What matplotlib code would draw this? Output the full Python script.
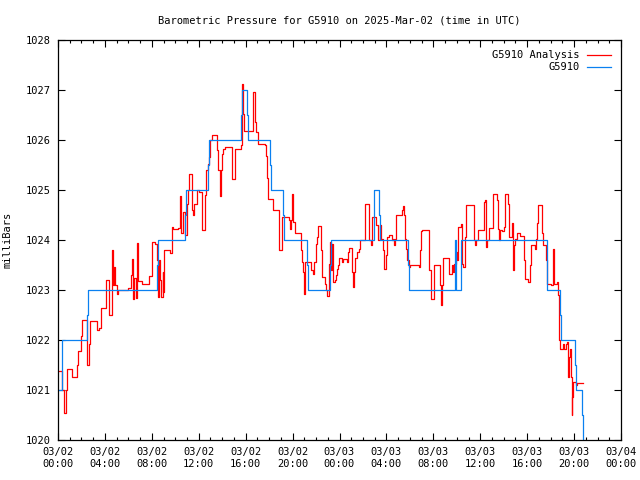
import matplotlib
matplotlib.use("Agg")
from matplotlib import pyplot as plt

# station obs (hours since 03/02 00:00 UTC, mb)
blue_hours = [0.0, 0.37, 2.44, 2.6, 8.47, 8.55, 10.85, 10.94, 12.82, 12.9, 15.6, 15.71,
              16.14, 16.22, 18.1, 18.18, 19.2, 19.29, 21.25, 21.33, 23.19, 23.27, 26.94,
              27.37, 27.48, 29.86, 29.95, 33.84, 33.9, 33.97, 34.36, 41.65, 41.7, 42.82,
              42.9, 44.1, 44.16, 44.67, 44.76, 44.9]
blue_mb = [1021.0, 1022.0, 1022.5, 1023.0, 1023.5, 1024.0, 1024.5, 1025.0, 1025.5, 1026.0,
           1026.5, 1027.0, 1026.5, 1026.0, 1025.5, 1025.0, 1024.5, 1024.0, 1023.5, 1023.0,
           1023.5, 1024.0, 1025.0, 1024.5, 1024.0, 1023.5, 1023.0, 1024.0, 1023.5, 1023.0,
           1024.0, 1023.5, 1023.0, 1022.5, 1022.0, 1021.5, 1021.0, 1020.5, 1019.5, 1019.5]

# analysis
red_hours = [0.0, 0.37, 0.54, 0.65, 0.74, 1.22, 1.59, 1.68, 1.73, 1.96, 2.07, 2.44, 2.67,
             2.76, 3.35, 3.52, 3.64, 4.06, 4.35, 4.57, 4.66, 4.74, 4.86, 5.06, 5.14,
             5.99, 6.22, 6.31, 6.37, 6.48, 6.62, 6.71, 6.79, 6.85, 7.13, 7.78, 7.98,
             8.27, 8.47, 8.5, 8.61, 8.7, 8.78, 8.92, 8.98, 9.06, 9.55, 9.69, 9.83, 10.26,
             10.4, 10.49, 10.68, 10.83, 10.97, 11.06, 11.17, 11.45, 11.53, 11.62, 11.82,
             12.02, 12.25, 12.53, 12.62, 12.82, 12.9, 12.96, 13.1, 13.53, 13.61, 13.84,
             13.9, 13.95, 14.1, 14.24, 14.86, 15.09, 15.57, 15.71, 15.8, 15.88, 16.65,
             16.79, 16.85, 17.08, 17.65, 17.73, 17.84, 17.93, 18.3, 18.84, 18.87, 19.12,
             19.69, 19.78, 19.84, 19.92, 20.06, 20.2, 20.72, 20.77, 20.83, 20.91, 20.97,
             21.06, 21.57, 21.77, 21.82, 21.97, 22.05, 22.19, 22.42, 22.53, 22.76, 22.82,
             22.9, 23.1, 23.19, 23.27, 23.33, 23.47, 23.61, 23.7, 23.81, 23.9, 23.98,
             24.18, 24.32, 24.61, 24.75, 24.83, 25.09, 25.12, 25.23, 25.32, 25.46, 25.66,
             25.75, 26.17, 26.51, 26.68, 26.74, 27.11, 27.31, 27.45, 27.54, 27.73, 27.79,
             27.96, 28.02, 28.25, 28.45, 28.53, 28.67, 28.73, 28.82, 29.3, 29.38, 29.5,
             29.58, 29.67, 29.72, 29.92, 30.0, 30.8, 30.86, 30.92, 31.0, 31.66, 31.77,
             32.05, 32.57, 32.63, 32.76, 32.85, 33.36, 33.56, 33.62, 33.7, 33.79, 33.9,
             34.04, 34.13, 34.36, 34.41, 34.5, 34.7, 34.78, 35.49, 35.55, 35.6, 35.78,
             36.32, 36.4, 36.49, 36.55, 36.74, 37.11, 37.45, 37.48, 37.54, 37.62, 37.68,
             37.82, 38.02, 38.11, 38.39, 38.45, 38.48, 38.68, 38.73, 38.76, 38.82, 38.87,
             38.96, 39.16, 39.39, 39.76, 39.81, 40.1, 40.24, 40.3, 40.67, 40.75, 40.81,
             40.95, 41.24, 41.3, 41.38, 41.6, 41.66, 41.72, 42.0, 42.17, 42.23, 42.28,
             42.31, 42.51, 42.65, 42.71, 42.74, 42.8, 43.08, 43.14, 43.28, 43.37, 43.45,
             43.51, 43.56, 43.65, 43.73, 43.79, 43.85, 43.93, 44.13, 44.22, 44.72]
red_mb = [1021.38, 1021.0, 1020.55, 1021.0, 1021.43, 1021.27, 1021.5, 1021.67, 1021.79,
          1022.08, 1022.4, 1021.5, 1021.93, 1022.38, 1022.2, 1022.25, 1022.65, 1023.2,
          1022.5, 1023.8, 1023.1, 1023.47, 1023.1, 1022.93, 1023.0,
          1023.05, 1023.31, 1023.63, 1022.82, 1023.25, 1022.85, 1023.95, 1023.57, 1023.18,
          1023.13, 1023.28, 1023.97, 1023.92, 1023.6, 1022.87, 1023.6, 1023.2, 1022.87,
          1023.37, 1022.97, 1023.8, 1023.75, 1024.27, 1024.22, 1024.25, 1024.88, 1024.13,
          1024.57, 1024.1, 1024.73, 1025.0, 1025.33, 1024.6, 1024.5, 1024.72, 1025.0,
          1024.97, 1024.2, 1024.9, 1025.4, 1025.53, 1025.65, 1026.0, 1026.1, 1025.8,
          1025.4, 1024.88, 1025.4, 1025.73, 1025.83, 1025.87, 1025.23, 1025.83, 1025.9,
          1027.12, 1026.53, 1026.18, 1026.97, 1026.37, 1026.15, 1025.93, 1025.9, 1025.67,
          1025.25, 1024.82, 1024.6, 1024.17, 1023.8, 1024.47, 1024.4, 1024.23, 1024.4,
          1024.93, 1024.37, 1024.13, 1023.8, 1023.67, 1023.57, 1023.37, 1022.93, 1023.57,
          1023.4, 1023.33, 1023.57, 1023.93, 1024.07, 1024.28, 1023.8, 1023.27, 1023.13,
          1023.0, 1022.88, 1023.53, 1023.97, 1023.4, 1023.93, 1023.17, 1023.2, 1023.3,
          1023.43, 1023.5, 1023.65, 1023.57, 1023.63, 1023.57, 1023.77, 1023.85, 1023.37,
          1023.07, 1023.37, 1023.65, 1023.77, 1023.83, 1024.0, 1024.73, 1024.0, 1023.9,
          1024.47, 1024.3, 1024.0, 1024.3, 1024.03, 1023.8, 1023.43, 1023.7, 1024.07,
          1024.1, 1024.0, 1024.03, 1023.9, 1024.03, 1024.5, 1024.6, 1024.67, 1024.5,
          1024.03, 1023.83, 1023.61, 1023.47, 1023.5, 1023.47, 1023.8, 1024.17, 1024.2,
          1023.4, 1022.83, 1023.5, 1023.1, 1022.7, 1023.1, 1023.65, 1023.33, 1023.43,
          1023.5, 1023.37, 1023.53, 1023.77, 1023.6, 1024.27, 1024.33, 1023.53, 1023.47,
          1024.07, 1024.7, 1024.0, 1023.9, 1024.0, 1024.2, 1024.77, 1024.8, 1023.87,
          1024.0, 1024.25, 1024.92, 1024.8, 1024.6, 1024.23, 1024.0, 1024.2, 1024.17,
          1024.27, 1024.92, 1024.73, 1024.53, 1024.07, 1024.23, 1024.35, 1023.9, 1023.41,
          1023.9, 1024.03, 1024.13, 1024.08, 1023.6, 1023.23, 1023.17, 1023.5, 1023.9,
          1023.83, 1024.03, 1024.35, 1024.7, 1024.53, 1024.13, 1023.9, 1023.6, 1023.3,
          1023.13, 1023.1, 1023.2, 1023.83, 1023.43, 1023.13, 1023.17, 1022.9, 1022.5,
          1022.0, 1021.83, 1021.93, 1021.83, 1021.93, 1021.97, 1021.47, 1021.27, 1021.67,
          1021.83, 1021.27, 1020.5, 1020.87, 1021.17, 1021.1, 1021.15, 1021.15]

xtick_hours = [0, 4, 8, 12, 16, 20, 24, 28, 32, 36, 40, 44, 48]
xtick_labels = ["03/02\n00:00", "03/02\n04:00", "03/02\n08:00", "03/02\n12:00",
                "03/02\n16:00", "03/02\n20:00", "03/03\n00:00", "03/03\n04:00",
                "03/03\n08:00", "03/03\n12:00", "03/03\n16:00", "03/03\n20:00",
                "03/04\n00:00"]
ytick_vals = [1020, 1021, 1022, 1023, 1024, 1025, 1026, 1027, 1028]

plt.rcParams['font.family'] = 'DejaVu Sans Mono'
plt.rcParams['font.size'] = 7.5

fig = plt.figure(figsize=(6.4, 4.8), dpi=100)
ax = fig.add_axes([58 / 640, 40 / 480, 563 / 640, 400 / 480])

ax.step(red_hours, red_mb, where='post', color='#ff0000', lw=0.9, label='G5910 Analysis')
ax.step(blue_hours, blue_mb, where='post', color='#0a80f0', lw=0.9, label='G5910')

ax.set_xlim(0, 48)
ax.set_ylim(1020, 1028)
ax.set_xticks(xtick_hours)
ax.set_xticklabels(xtick_labels)
ax.set_xticks(range(49), minor=True)
ax.set_yticks(ytick_vals)
ax.set_yticklabels([str(v) for v in ytick_vals])
ax.tick_params(which='both', direction='in', top=True, right=True, width=0.8)
ax.tick_params(which='major', length=5, pad=5)
ax.tick_params(which='minor', length=2.5)
for s in ax.spines.values():
    s.set_linewidth(0.9)

ax.set_title("Barometric Pressure for G5910 on 2025-Mar-02 (time in UTC)", fontsize=7.5, pad=12)
ax.set_ylabel("milliBars", labelpad=10)

leg = ax.legend(loc='upper right', frameon=False, markerfirst=False, handlelength=2.3,
                borderaxespad=0.6, labelspacing=0.2, handletextpad=0.7)
for t in leg.get_texts():
    t.set_ha('right')

fig.savefig("out.png", dpi=100)
